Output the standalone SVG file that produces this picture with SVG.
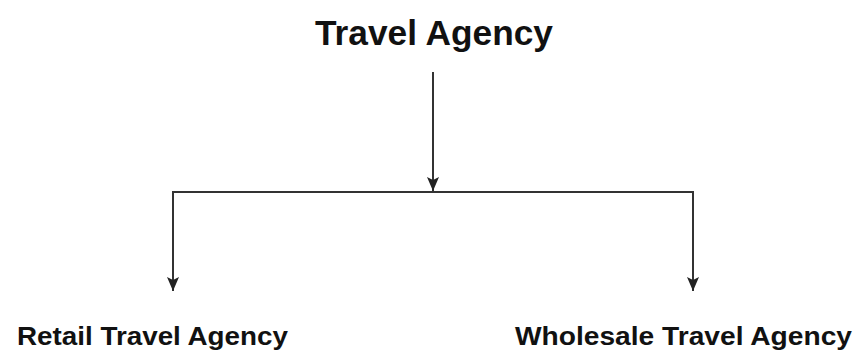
<svg xmlns="http://www.w3.org/2000/svg" width="857" height="350" viewBox="0 0 857 350">
<style>
.t{font-family:"Liberation Sans",Arial,sans-serif;font-weight:bold;fill:#111}
.c{stroke:#333;stroke-width:2;fill:none}
</style>
<defs>
<marker id="ah" markerUnits="userSpaceOnUse" markerWidth="16" markerHeight="16" viewBox="0 0 16 16" refX="14" refY="8" orient="auto">
<path d="M0,2 L14,8 L0,14 L3,8 Z" fill="#222"/>
</marker>
</defs>
<rect width="857" height="350" fill="#fff"/>
<g id="travel-agency"><text class="t" x="315" y="45" font-size="35" textLength="238" lengthAdjust="spacingAndGlyphs">Travel Agency</text></g>
<g id="retail"><text class="t" x="17" y="345" font-size="25" textLength="271" lengthAdjust="spacingAndGlyphs">Retail Travel Agency</text></g>
<g id="wholesale"><text class="t" x="515" y="345" font-size="25" textLength="337" lengthAdjust="spacingAndGlyphs">Wholesale Travel Agency</text></g>
<g id="connectors">
<line class="c" x1="433" y1="72" x2="433" y2="191" marker-end="url(#ah)"/>
<line class="c" x1="172" y1="192" x2="694" y2="192"/>
<line class="c" x1="173" y1="192" x2="173" y2="291" marker-end="url(#ah)"/>
<line class="c" x1="693" y1="192" x2="693" y2="291" marker-end="url(#ah)"/>
</g>
</svg>
